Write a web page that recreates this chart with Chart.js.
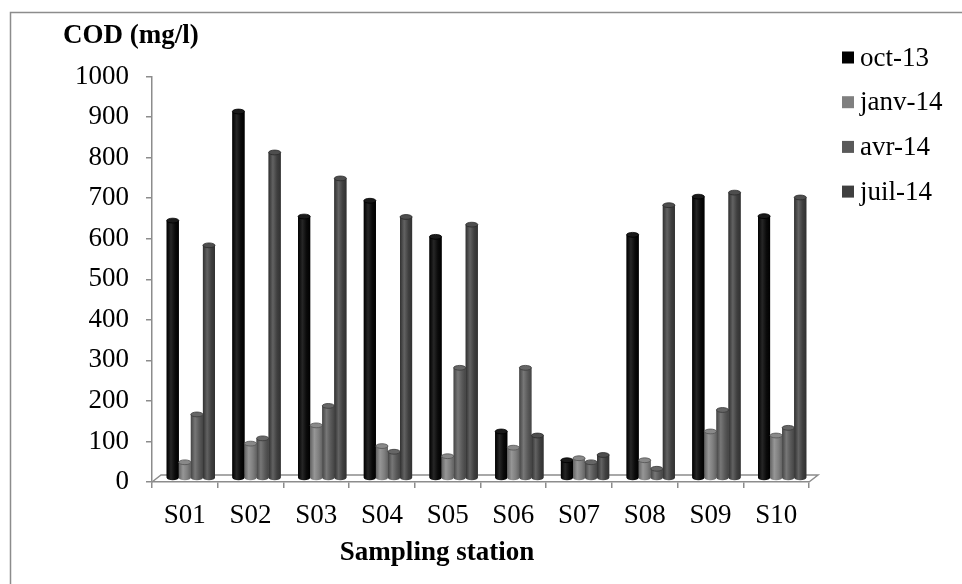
<!DOCTYPE html>
<html>
<head>
<meta charset="utf-8">
<script src="https://cdn.jsdelivr.net/npm/chart.js@4/dist/chart.umd.min.js"></script>
<style>
  html, body { margin: 0; padding: 0; background: #ffffff; }
  #wrap { width: 962px; height: 584px; position: relative; }
</style>
</head>
<body>
<div id="wrap"><canvas id="c" width="962" height="584"></canvas></div>
<script>
// Sampling stations and COD values (mg/l) per campaign
const categories = ['S01', 'S02', 'S03', 'S04', 'S05', 'S06', 'S07', 'S08', 'S09', 'S10'];
const seriesNames = ['oct-13', 'janv-14', 'avr-14', 'juil-14'];
const oct13  = [636, 905, 646, 685, 596, 116, 45, 601, 695, 647];
const janv14 = [40, 86, 131, 80, 55, 76, 50, 45, 116, 106];
const avr14  = [158, 99, 179, 66, 273, 273, 40, 24, 169, 125];
const juil14 = [575, 804, 740, 645, 626, 106, 58, 674, 705, 693];
const yMin = 0, yMax = 1000, yStep = 100;

const seriesColors = ['#000000', '#7f7f7f', '#595959', '#3f3f3f'];
const FONT = '"Liberation Serif", "Times New Roman", serif';
const FONT_SIZE = 27;
const AXIS_GREY = '#8c8c8c';
const DEPTH = { dx: 6, dy: -3.5 };   // offset of the bar row inside the floor
const FLOOR = { dx: 9, dy: -7 };     // depth of the floor plate

function shade(hex, amt) {
  const n = parseInt(hex.slice(1), 16);
  const ch = [(n >> 16) & 255, (n >> 8) & 255, n & 255].map(v => {
    const t = amt >= 0 ? v + (255 - v) * amt : v * (1 + amt);
    return Math.max(0, Math.min(255, Math.round(t)));
  });
  return 'rgb(' + ch.join(',') + ')';
}

// Frame, floor, titles and legend
const decorPlugin = {
  id: 'decor',
  beforeDatasetsDraw(chart) {
    const { ctx, chartArea: a } = chart;
    ctx.save();
    ctx.strokeStyle = AXIS_GREY;
    ctx.lineWidth = 1.5;
    ctx.beginPath();
    ctx.moveTo(a.left, a.bottom);
    ctx.lineTo(a.left + FLOOR.dx, a.bottom + FLOOR.dy);
    ctx.lineTo(a.right + FLOOR.dx, a.bottom + FLOOR.dy);
    ctx.lineTo(a.right, a.bottom);
    ctx.stroke();
    ctx.restore();
  },
  afterDraw(chart) {
    const { ctx } = chart;
    ctx.save();
    // outer frame (top and left edges)
    ctx.strokeStyle = AXIS_GREY;
    ctx.lineWidth = 1.5;
    ctx.beginPath();
    ctx.moveTo(10.5, 584);
    ctx.lineTo(10.5, 12.5);
    ctx.lineTo(962, 12.5);
    ctx.stroke();

    ctx.fillStyle = '#000';
    ctx.textBaseline = 'middle';
    ctx.font = 'bold ' + FONT_SIZE + 'px ' + FONT;
    ctx.textAlign = 'left';
    ctx.fillText('COD (mg/l)', 63, 36);
    ctx.textAlign = 'center';
    ctx.fillText('Sampling station', 437, 553);

    // legend
    ctx.font = FONT_SIZE + 'px ' + FONT;
    ctx.textAlign = 'left';
    chart.data.datasets.forEach((ds, i) => {
      const cy = 57.5 + i * 44.7;
      ctx.fillStyle = seriesColors[i];
      ctx.fillRect(842, cy - 6, 12, 12);
      ctx.fillStyle = '#000';
      ctx.fillText(ds.label, 860, cy + 1);
    });
    ctx.restore();
  }
};

// Bars drawn as shaded cylinders, shifted back onto the floor
const cylinderPlugin = {
  id: 'cylinders',
  beforeDatasetsDraw(chart) {
    chart.ctx.save();
    chart.ctx.translate(DEPTH.dx, DEPTH.dy);
  },
  afterDatasetsDraw(chart) {
    const ctx = chart.ctx;
    chart.data.datasets.forEach((ds, di) => {
      const meta = chart.getDatasetMeta(di);
      const base = seriesColors[di];
      const dark = di === 0 ? '#000000' : shade(base, -0.22);
      const light = di === 0 ? '#262626' : shade(base, 0.18);
      meta.data.forEach(el => {
        const p = el.getProps(['x', 'y', 'width', 'base'], true);
        const l = p.x - p.width / 2, r = p.x + p.width / 2;
        const rx = p.width / 2, ry = 2.4;
        const g = ctx.createLinearGradient(l, 0, r, 0);
        g.addColorStop(0, dark);
        g.addColorStop(0.35, light);
        g.addColorStop(0.7, di === 0 ? '#0a0a0a' : base);
        g.addColorStop(1, dark);
        ctx.beginPath();
        ctx.moveTo(l, p.y);
        ctx.lineTo(l, p.base);
        ctx.ellipse(p.x, p.base, rx, ry, 0, Math.PI, 0, true);
        ctx.lineTo(r, p.y);
        ctx.ellipse(p.x, p.y, rx, ry, 0, 0, Math.PI, false);
        ctx.closePath();
        ctx.fillStyle = g;
        ctx.fill();
        // top cap
        ctx.beginPath();
        ctx.ellipse(p.x, p.y, rx, ry, 0, 0, Math.PI * 2);
        ctx.fillStyle = di === 0 ? '#1a1a1a' : shade(base, 0.08);
        ctx.fill();
        ctx.lineWidth = 0.8;
        ctx.strokeStyle = di === 0 ? '#000' : shade(base, -0.35);
        ctx.stroke();
      });
    });
    ctx.restore();
  }
};

const seriesValues = [oct13, janv14, avr14, juil14];

new Chart(document.getElementById('c'), {
  type: 'bar',
  data: {
    labels: categories,
    datasets: seriesValues.map((vals, i) => ({
      label: seriesNames[i],
      data: vals,
      backgroundColor: seriesColors[i],
      borderWidth: 0,
      categoryPercentage: 0.735,
      barPercentage: 1.0,
      clip: false
    }))
  },
  options: {
    responsive: false,
    animation: false,
    devicePixelRatio: 1,
    layout: { padding: { left: 0, top: 76.5, right: 153, bottom: 0 } },
    plugins: {
      legend: { display: false },
      tooltip: { enabled: false },
      title: { display: false }
    },
    scales: {
      x: {
        grid: { offset: true, drawOnChartArea: false, drawTicks: true, tickLength: 6, color: AXIS_GREY, lineWidth: 1.5 },
        border: { display: true, color: AXIS_GREY, width: 1.5 },
        ticks: { color: '#000', font: { family: FONT, size: FONT_SIZE }, padding: 12, maxRotation: 0 },
        afterFit(s) { s.height = 102; }
      },
      y: {
        min: yMin,
        max: yMax,
        grid: { drawOnChartArea: false, drawTicks: true, tickLength: 6, color: AXIS_GREY, lineWidth: 1.5 },
        border: { display: true, color: AXIS_GREY, width: 1.5 },
        ticks: {
          stepSize: yStep,
          color: '#000',
          font: { family: FONT, size: FONT_SIZE },
          padding: 17,
          callback: v => String(v)
        },
        afterFit(s) { s.width = 152; }
      }
    }
  },
  plugins: [decorPlugin, cylinderPlugin]
});
</script>
</body>
</html>
